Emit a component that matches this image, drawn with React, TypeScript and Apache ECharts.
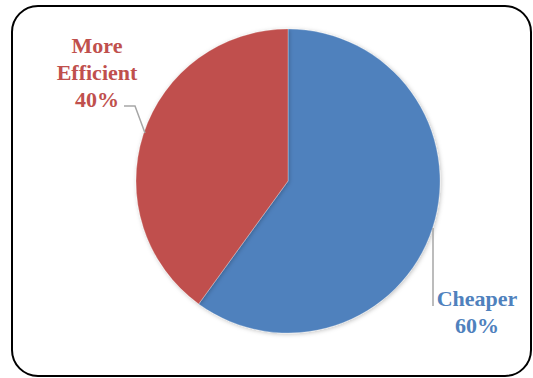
import React, { useEffect, useRef } from "react";
import * as echarts from "echarts";

const categories = ["Cheaper", "More Efficient"];
const values = [60, 40];
const labelLines = [["Cheaper", "60%"], ["More", "Efficient", "40%"]];
const colors = ["#4F81BD", "#C0504D"];

export default function App() {
  const ref = useRef<HTMLDivElement>(null);
  useEffect(() => {
    if (!ref.current) return;
    const chart = echarts.init(ref.current, null, { renderer: "svg" });
    const labelPos = [
      { x: 477, y: 312, line: [[433, 228], [433, 306]] },
      { x: 97, y: 72, line: [[145, 133], [135, 106], [124, 106]] },
    ];
    const lh = 27;
    const labelGraphics: any[] = [];
    labelPos.forEach((p, i) => {
      labelGraphics.push({
        type: "polyline",
        shape: { points: p.line },
        style: { stroke: "#A6A6A6", lineWidth: 1.5, fill: "none" },
        z: 50,
      });
      const lines = labelLines[i];
      const top = p.y - ((lines.length - 1) * lh) / 2;
      lines.forEach((t, k) => {
        labelGraphics.push({
          type: "text",
          x: p.x,
          y: top + k * lh,
          style: {
            text: t,
            font: "bold 22px Liberation Serif",
            fill: colors[i],
            align: "center",
            verticalAlign: "middle",
          },
          z: 50,
        });
      });
    });
    chart.setOption({
      animation: false,
      backgroundColor: "#fff",
      graphic: [
        {
          type: "rect",
          shape: { x: 12, y: 6, width: 519, height: 370, r: 26 },
          style: { fill: "none", stroke: "#000", lineWidth: 2 },
          z: 100,
        },
        ...labelGraphics,
      ],
      series: [
        {
          type: "pie",
          center: [288, 181],
          radius: 152,
          startAngle: 90,
          clockwise: true,
          data: categories.map((c, i) => ({
            name: c,
            value: values[i],
            itemStyle: { color: colors[i] },
          })),
          itemStyle: {
            borderColor: "rgba(255,255,255,0.5)",
            borderWidth: 0.5,
            shadowBlur: 4,
            shadowColor: "rgba(0,0,0,0.25)",
            shadowOffsetX: 1,
            shadowOffsetY: 1,
          },
          label: { show: false },
          labelLine: { show: false },
        },
      ],
    });
    return () => chart.dispose();
  }, []);
  return (
    <div
      ref={ref}
      style={{ position: "fixed", left: 0, top: 0, width: 533, height: 378 }}
    />
  );
}
